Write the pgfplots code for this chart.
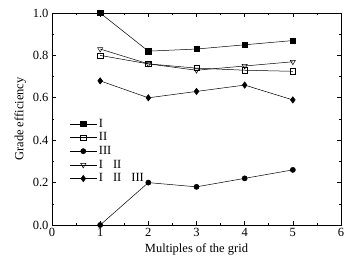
\documentclass[border=0pt]{standalone}
\usepackage{fontspec}
\setmainfont{Liberation Serif}
\usepackage{pgfplots}
\pgfplotsset{compat=1.18}
\begin{document}
\begin{tikzpicture}
\begin{axis}[
  scale only axis,
  width=289pt, height=212pt,
  xmin=0, xmax=6, ymin=0, ymax=1.0,
  xtick={0,1,2,3,4,5,6},
  ytick={0,0.2,0.4,0.6,0.8,1.0},
  minor x tick num=1,
  minor y tick num=1,
  tick align=inside,
  major tick length=4pt,
  minor tick length=2pt,
  tick style={black, line width=0.6pt},
  axis line style={line width=0.8pt},
  yticklabel style={/pgf/number format/fixed, /pgf/number format/fixed zerofill, /pgf/number format/precision=1},
  /pgf/number format/assume math mode=true,
  ticklabel style={font=\fontsize{12.5}{14}\selectfont},
  label style={font=\fontsize{12.5}{14}\selectfont},
  xlabel={Multiples of the grid},
  ylabel={Grade efficiency},
  legend style={at={(0.05,0.52)}, anchor=north west, draw=none, fill=none,
    font=\fontsize{12.5}{14}\selectfont, row sep=0pt},
  legend cell align=left,
  legend image code/.code={\draw[mark repeat=2,mark phase=2] plot coordinates {(0cm,0cm) (0.47cm,0cm) (0.94cm,0cm)};},
  every axis plot/.append style={black, line width=0.5pt, mark size=2.6pt},
]
\addplot[mark=square*] coordinates {(1,1.0) (2,0.82) (3,0.83) (4,0.85) (5,0.87)};
\addlegendentry{I}
\addplot[mark=square, mark options={fill=white}] coordinates {(1,0.80) (2,0.76) (3,0.74) (4,0.73) (5,0.725)};
\addlegendentry{II}
\addplot[mark=*] coordinates {(1,0.0) (2,0.20) (3,0.18) (4,0.22) (5,0.26)};
\addlegendentry{III}
\addplot[mark=triangle, mark options={rotate=180, fill=white}, mark size=3pt] coordinates {(1,0.83) (2,0.76) (3,0.73) (4,0.75) (5,0.77)};
\addlegendentry{I\hspace{0.8em}II}
\addplot[mark=diamond*, mark size=3.2pt] coordinates {(1,0.68) (2,0.60) (3,0.63) (4,0.66) (5,0.59)};
\addlegendentry{I\hspace{0.8em}II\hspace{0.8em}III}
\end{axis}
\path (current axis.south west) ++(-52pt,-45pt) coordinate (bbA);
\path (current axis.north east) ++(12pt,13pt) coordinate (bbB);
\path (bbA) rectangle (bbB);
\end{tikzpicture}
\end{document}
